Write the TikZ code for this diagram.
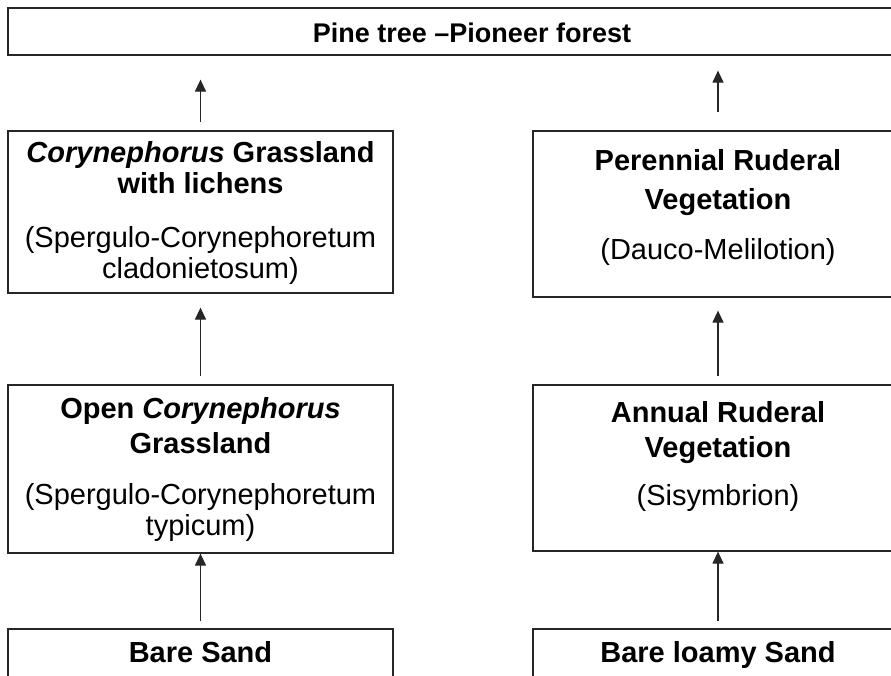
\documentclass[tikz,border=0pt]{standalone}
\usepackage{fontspec}
\setmainfont{Liberation Sans}
\usetikzlibrary{arrows.meta, positioning}
\tikzstyle{stage} = [rectangle, draw=black!85, line width=1.2pt, inner sep=0pt]
\tikzstyle{head} = [font=\bfseries\fontsize{29}{33}\selectfont, align=center, anchor=base, inner sep=0pt]
\tikzstyle{syn} = [font=\fontsize{29}{31}\selectfont, align=center, anchor=base, inner sep=0pt]
\tikzstyle{succ} = [-{Triangle[length=12pt, width=11pt]}, line width=1.2pt, draw=black!85]

\begin{document}
\begin{tikzpicture}[x=1pt, y=-1pt]
  \useasboundingbox (0,0) rectangle (891,675);
  \clip (0,0) rectangle (891,675);

  % Klimax
  \node[stage, minimum width=928pt, minimum height=47pt] (forest) at (472,31.5) {};
  \node[head, font=\bfseries\fontsize{27}{30}\selectfont] (forestT) at (472,42) {Pine tree –Pioneer forest};

  % Sand
  \node[stage, minimum width=385pt, minimum height=162pt] (clad) at (200.5,212) {};
  \node[stage, minimum width=385pt, minimum height=168pt] (typ) at (200.5,469) {};
  \node[stage, minimum width=385pt, minimum height=100pt] (sand) at (200.5,679) {};

  \node[head] (cladT) at (200.5,193) {\textit{Corynephorus} Grassland\\[-2pt]with lichens};
  \node[syn] (cladS) at (200.5,278) {(Spergulo-Corynephoretum\\cladonietosum)};
  \node[head] (typT) at (200.5,453) {Open \textit{Corynephorus}\\[2pt]Grassland};
  \node[syn] (typS) at (200.5,535) {(Spergulo-Corynephoretum\\typicum)};
  \node[head] (sandT) at (200.5,662) {Bare Sand};

  % lehmiger Sand
  \node[stage, minimum width=370pt, minimum height=166pt] (dauco) at (718,214) {};
  \node[stage, minimum width=370pt, minimum height=166pt] (sisy) at (718,468) {};
  \node[stage, minimum width=370pt, minimum height=100pt] (loam) at (718,679) {};

  \node[head] (daucoT) at (718,170) {Perennial Ruderal};
  \node[head] (daucoV) at (718,209) {Vegetation};
  \node[syn] (daucoS) at (718,259) {(Dauco-Melilotion)};
  \node[head] (sisyT) at (718,457) {Annual Ruderal\\[2pt]Vegetation};
  \node[syn] (sisyS) at (718,505) {(Sisymbrion)};
  \node[head] (loamT) at (718,662) {Bare loamy Sand};

  % Sukzession
  \draw[succ, shorten <=8pt, shorten >=24pt] (clad.north) -- (clad.north |- forest.south);
  \draw[succ, shorten <=8pt, shorten >=14pt] (typ) -- (clad);
  \draw[succ, shorten <=7pt] (sand) -- (typ);

  \draw[succ, shorten <=18pt, shorten >=15pt] (dauco.north) -- (dauco.north |- forest.south);
  \draw[succ, shorten <=8pt, shorten >=13pt] (sisy) -- (dauco);
  \draw[succ, shorten <=7pt] (loam) -- (sisy);
\end{tikzpicture}
\end{document}
